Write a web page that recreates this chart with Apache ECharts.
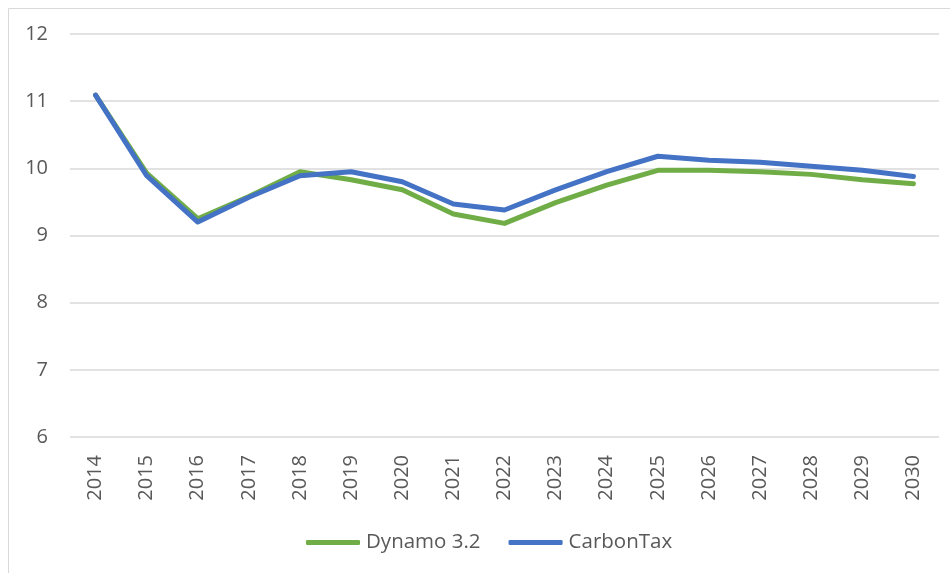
<!DOCTYPE html>
<html>
<head>
<meta charset="utf-8">
<script src="https://cdn.jsdelivr.net/npm/echarts@6/dist/echarts.min.js"></script>
<style>
html,body{margin:0;padding:0;background:#fff;}
#chart{width:950px;height:573px;}
</style>
</head>
<body>
<div id="chart"></div>
<script>
var years = ['2014','2015','2016','2017','2018','2019','2020','2021','2022','2023','2024','2025','2026','2027','2028','2029','2030'];
var dynamo = [11.09, 9.93, 9.25, 9.58, 9.95, 9.83, 9.68, 9.32, 9.18, 9.49, 9.75, 9.97, 9.97, 9.95, 9.91, 9.83, 9.77];
var carbonTax = [11.09, 9.89, 9.20, 9.57, 9.89, 9.95, 9.80, 9.47, 9.38, 9.68, 9.95, 10.18, 10.12, 10.09, 10.03, 9.97, 9.88];
var yTicks = {min: 6, max: 12, interval: 1};

var font = '"Open Sans", "Liberation Sans", sans-serif';
var chart = echarts.init(document.getElementById('chart'));
chart.setOption({
  animation: false,
  backgroundColor: '#ffffff',
  graphic: [{
    type: 'rect',
    shape: {x: 8.5, y: 8.5, width: 960, height: 600},
    style: {fill: 'none', stroke: '#d9d9d9', lineWidth: 1},
    silent: true
  }],
  grid: {left: 70, right: 11, top: 34, bottom: 136, containLabel: false},
  legend: {
    bottom: 15,
    left: 301,
    itemWidth: 54,
    itemHeight: 5,
    itemGap: 28,
    icon: 'roundRect',
    textStyle: {color: '#595959', fontSize: 20.5, fontFamily: font, padding: [0, 0, 0, 1]},
    data: ['Dynamo 3.2', 'CarbonTax']
  },
  xAxis: {
    type: 'category',
    data: years,
    boundaryGap: true,
    axisLine: {show: false},
    axisTick: {show: false},
    axisLabel: {rotate: 90, margin: 18, color: '#595959', fontSize: 20, fontFamily: font}
  },
  yAxis: {
    type: 'value',
    min: yTicks.min,
    max: yTicks.max,
    interval: yTicks.interval,
    axisLine: {show: false},
    axisTick: {show: false},
    axisLabel: {margin: 22, color: '#595959', fontSize: 20, fontFamily: font},
    splitLine: {lineStyle: {color: '#d9d9d9', width: 1.5}}
  },
  series: [
    {
      name: 'Dynamo 3.2',
      type: 'line',
      data: dynamo,
      showSymbol: false,
      symbol: 'none',
      itemStyle: {color: '#70AD47'},
      lineStyle: {color: '#70AD47', width: 5, cap: 'round', join: 'round'}
    },
    {
      name: 'CarbonTax',
      type: 'line',
      data: carbonTax,
      showSymbol: false,
      symbol: 'none',
      itemStyle: {color: '#4472C4'},
      lineStyle: {color: '#4472C4', width: 5, cap: 'round', join: 'round'}
    }
  ]
});
</script>
</body>
</html>
